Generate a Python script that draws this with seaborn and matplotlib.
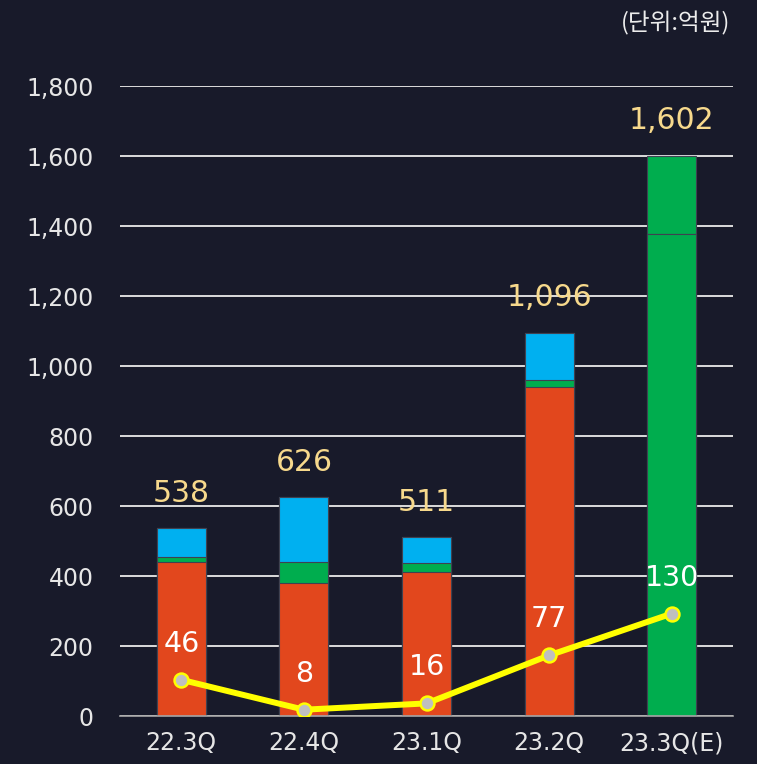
import numpy as np
import pandas as pd
import matplotlib
matplotlib.use("Agg")
import matplotlib.pyplot as plt
import seaborn as sns

# ---- data ----
categories = ["22.3Q", "22.4Q", "23.1Q", "23.2Q", "23.3Q(E)"]
seg_red = [440, 379, 412, 940, 0]
seg_green = [14, 60, 24, 20, 1379]
seg_blue = [84, 187, 75, 136, 0]
seg_green2 = [0, 0, 0, 0, 223]
totals = [538, 626, 511, 1096, 1602]
line_values = [46, 8, 16, 77, 130]
y_ticks = [0, 200, 400, 600, 800, 1000, 1200, 1400, 1600, 1800]
unit_label = "(단위:억원)"

BG = "#181a2a"
RED = "#e2471d"
GREEN = "#00ad4e"
BLUE = "#00b0f0"
YELLOW = "#ffff00"

sns.set_theme(style="white")
plt.rcParams["font.family"] = ["DejaVu Sans"]

fig = plt.figure(figsize=(7.57, 7.64), dpi=100, facecolor=BG)
ax = fig.add_axes([120 / 757, 48 / 764, 613 / 757, 630 / 764])
ax.set_facecolor(BG)

df = pd.DataFrame({
    "cat": categories,
    "red": seg_red, "green": seg_green, "blue": seg_blue, "green2": seg_green2,
})
layers = [("red", RED), ("green", GREEN), ("blue", BLUE), ("green2", GREEN)]
cum = np.zeros(len(categories))
cums = []
for name, col in layers:
    cum = cum + df[name].to_numpy()
    cums.append((cum.copy(), col))

for vals, col in reversed(cums):
    sns.barplot(x=categories, y=vals, color=col, width=0.4, saturation=1,
                edgecolor="#3f4150", linewidth=0.8, ax=ax, zorder=3)

ax.set_ylim(0, 1801)
ax.set_xlim(-0.5, len(categories) - 0.5)
ax.set_yticks(y_ticks)
ax.set_yticklabels([f"{v:,}" for v in y_ticks])
ax.yaxis.grid(True, color="#dcdcdc", linewidth=1.4, zorder=0)
ax.set_axisbelow(True)
ax.xaxis.grid(False)
for s in ["left", "right", "top"]:
    ax.spines[s].set_visible(False)
ax.spines["bottom"].set_color("#a6a6a6")
ax.spines["bottom"].set_linewidth(1.2)
ax.spines["bottom"].set_zorder(4)
ax.set_xticks(range(len(categories)))
ax.set_xticklabels(categories)
ax.set_xticks(np.arange(-0.5, len(categories)), minor=True)
ax.tick_params(axis="x", which="major", length=0, pad=11, labelsize=17, labelcolor="#e6e6e6")
ax.tick_params(axis="x", which="minor", length=5, width=1, color="#a6a6a6", direction="out")
ax.tick_params(axis="y", length=0, pad=19, labelsize=17, labelcolor="#e6e6e6")
ax.set_xlabel("")
ax.set_ylabel("")

# totals
for i, t in enumerate(totals):
    ax.annotate(f"{t:,}", (i, t), xytext=(0, 25), textcoords="offset points",
                ha="center", va="center", fontsize=21.5, color="#f7d98c", zorder=6)

# line on secondary scale
ax2 = ax.twinx()
ax2.set_ylim(0, 800)
ax2.set_axis_off()
sns.lineplot(x=np.arange(len(categories)), y=line_values, ax=ax2, color=YELLOW,
             linewidth=4.3, marker="o", markersize=10, markerfacecolor="#bfbfbf",
             markeredgecolor=YELLOW, markeredgewidth=1.8, zorder=5)
for i, v in enumerate(line_values):
    ax2.annotate(f"{v}", (i, v), xytext=(0, 26), textcoords="offset points",
                 ha="center", va="center", fontsize=20.5, color="white", zorder=6)

fig.text(730 / 757, 1 - 23 / 764, unit_label, ha="right", va="center",
         fontsize=17, color="#ececec", fontweight="medium",
         family=["Noto Sans CJK KR", "DejaVu Sans"])

fig.savefig("out.png", dpi=100, facecolor=BG)
